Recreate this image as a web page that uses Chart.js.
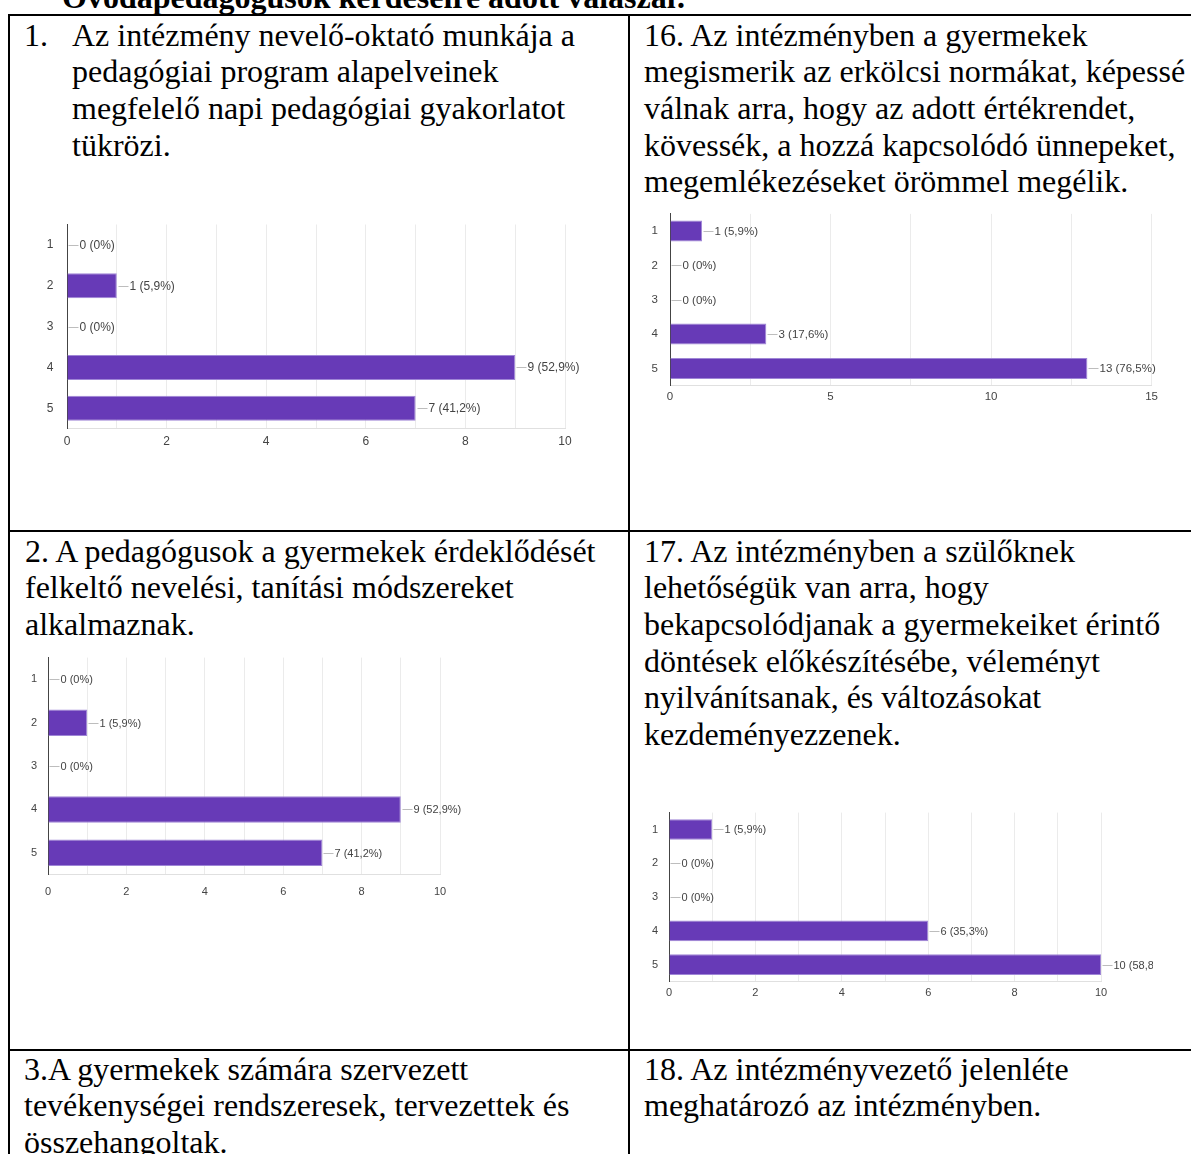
<!DOCTYPE html>
<html>
<head>
<meta charset="utf-8">
<script src="https://cdn.jsdelivr.net/npm/chart.js@4.4.1/dist/chart.umd.min.js"></script>
<style>
body{margin:0;width:1191px;height:1154px;overflow:hidden;background:#fff;position:relative;font-family:"Liberation Serif","Times New Roman",serif;color:#000}
.t{position:absolute;font-size:32px;line-height:36.7px;white-space:nowrap}
.ln{position:absolute;background:#000}
canvas,svg{position:absolute}
</style>
</head>
<body>

<svg width="1191" height="14" style="left:0;top:0"><text x="62" y="8" font-family="Liberation Serif, Times New Roman, serif" font-weight="bold" font-size="32">Óvodapedagógusok kérdéseire adott válaszai:</text></svg>

<div class="ln" style="left:8px;top:14px;width:1183px;height:2px"></div>
<div class="ln" style="left:8px;top:14px;width:2px;height:1140px"></div>
<div class="ln" style="left:628px;top:14px;width:2px;height:1140px"></div>
<div class="ln" style="left:8px;top:530px;width:1183px;height:2px"></div>
<div class="ln" style="left:8px;top:1049px;width:1183px;height:2px"></div>

<div class="t" style="left:24px;top:16.5px">1.</div>
<div class="t" style="left:72px;top:16.5px">Az intézmény nevelő-oktató munkája a<br>pedagógiai program alapelveinek<br>megfelelő napi pedagógiai gyakorlatot<br>tükrözi.</div>

<div class="t" style="left:644px;top:16.5px">16. Az intézményben a gyermekek<br>megismerik az erkölcsi normákat, képessé<br>válnak arra, hogy az adott értékrendet,<br>kövessék, a hozzá kapcsolódó ünnepeket,<br>megemlékezéseket örömmel megélik.</div>

<div class="t" style="left:25px;top:532.5px">2. A pedagógusok a gyermekek érdeklődését<br>felkeltő nevelési, tanítási módszereket<br>alkalmaznak.</div>

<div class="t" style="left:644px;top:532.5px">17. Az intézményben a szülőknek<br>lehetőségük van arra, hogy<br>bekapcsolódjanak a gyermekeiket érintő<br>döntések előkészítésébe, véleményt<br>nyilvánítsanak, és változásokat<br>kezdeményezzenek.</div>

<div class="t" style="left:24px;top:1050.5px">3.A gyermekek számára szervezett<br>tevékenységei rendszeresek, tervezettek és<br>összehangoltak.</div>

<div class="t" style="left:644px;top:1050.5px">18. Az intézményvezető jelenléte<br>meghatározó az intézményben.</div>

<canvas id="c1" width="600" height="265" style="left:20px;top:200px"></canvas>
<canvas id="c2" width="530" height="225" style="left:632px;top:195px"></canvas>
<canvas id="c3" width="455" height="270" style="left:12px;top:640px"></canvas>
<canvas id="c4" width="521" height="215" style="left:632px;top:795px"></canvas>

<script>
// answer scale 1..5
const categories = ['1', '2', '3', '4', '5'];

// question 1
const q1Counts = [0, 1, 0, 9, 7];
const q1Pct = ['0%', '5,9%', '0%', '52,9%', '41,2%'];
const q1Ticks = [0, 2, 4, 6, 8, 10];

// question 16
const q16Counts = [1, 0, 0, 3, 13];
const q16Pct = ['5,9%', '0%', '0%', '17,6%', '76,5%'];
const q16Ticks = [0, 5, 10, 15];

// question 2
const q2Counts = [0, 1, 0, 9, 7];
const q2Pct = ['0%', '5,9%', '0%', '52,9%', '41,2%'];
const q2Ticks = [0, 2, 4, 6, 8, 10];

// question 17
const q17Counts = [1, 0, 0, 6, 10];
const q17Pct = ['5,9%', '0%', '0%', '35,3%', '58,8%'];
const q17Ticks = [0, 2, 4, 6, 8, 10];

const valueLabels = {
  id: 'valueLabels',
  afterDatasetsDraw(chart, args, opts) {
    const ctx = chart.ctx;
    const meta = chart.getDatasetMeta(0);
    ctx.save();
    ctx.font = opts.font;
    ctx.textBaseline = 'middle';
    ctx.lineWidth = 1;
    meta.data.forEach((bar, i) => {
      const x = Math.round(bar.x) + 0.5;
      const y = Math.round(bar.y) + 0.5;
      ctx.strokeStyle = '#bdbdbd';
      ctx.beginPath();
      ctx.moveTo(x + 1, y);
      ctx.lineTo(x + 11, y);
      ctx.stroke();
      ctx.fillStyle = '#444';
      ctx.fillText(opts.labels[i], x + 12, y);
    });
    ctx.restore();
  }
};

// g: canvas box and plot area in page pixels
function bars(id, counts, pct, ticks, step, g, family, size) {
  const xH = 24;
  const font = { family: family, size: size };
  return new Chart(document.getElementById(id), {
    type: 'bar',
    data: {
      labels: categories,
      datasets: [{
        data: counts,
        backgroundColor: '#673ab7',
        borderColor: '#9f86d6',
        borderWidth: 1,
        categoryPercentage: 0.61,
        barPercentage: 1
      }]
    },
    options: {
      indexAxis: 'y',
      responsive: false,
      animation: false,
      layout: {
        padding: {
          left: 0,
          top: g.plotT - g.top,
          right: g.left + g.width - g.plotR,
          bottom: g.top + g.height - g.plotB - xH
        }
      },
      plugins: {
        legend: { display: false },
        tooltip: { enabled: false },
        valueLabels: {
          labels: counts.map((c, i) => c + ' (' + pct[i] + ')'),
          font: size + 'px ' + family
        }
      },
      scales: {
        x: {
          min: 0,
          max: ticks[ticks.length - 1],
          ticks: {
            stepSize: step,
            autoSkip: false,
            maxRotation: 0,
            padding: g.xPad,
            color: '#444',
            font: font,
            callback: v => ticks.includes(v) ? String(v) : ''
          },
          grid: { color: '#ebebeb', drawTicks: false },
          border: { color: '#e0e0e0' },
          afterFit: s => { s.height = xH; }
        },
        y: {
          ticks: { padding: g.yPad, color: '#444', font: font },
          grid: { display: false, drawTicks: false },
          border: { color: '#444', width: 1 },
          afterFit: s => { s.width = g.plotL - g.left; }
        }
      }
    },
    plugins: [valueLabels]
  });
}

const arial = '"Liberation Sans", Arial, sans-serif';

bars('c1', q1Counts, q1Pct, q1Ticks, 1,
  { left: 20, top: 200, width: 600, height: 265, plotL: 67, plotR: 565, plotT: 224.5, plotB: 428.7, yPad: 13.5, xPad: 6 },
  arial, 12);
bars('c2', q16Counts, q16Pct, q16Ticks, 2.5,
  { left: 632, top: 195, width: 530, height: 225, plotL: 670, plotR: 1152, plotT: 211.6, plotB: 385.6, yPad: 12, xPad: 4 },
  arial, 11.5);
bars('c3', q2Counts, q2Pct, q2Ticks, 1,
  { left: 12, top: 640, width: 455, height: 270, plotL: 48, plotR: 440, plotT: 652, plotB: 874.5, yPad: 11, xPad: 11 },
  arial, 11);
bars('c4', q17Counts, q17Pct, q17Ticks, 1,
  { left: 632, top: 795, width: 521, height: 215, plotL: 669, plotR: 1101, plotT: 809, plotB: 981.5, yPad: 11, xPad: 5 },
  arial, 11);
</script>
</body>
</html>
